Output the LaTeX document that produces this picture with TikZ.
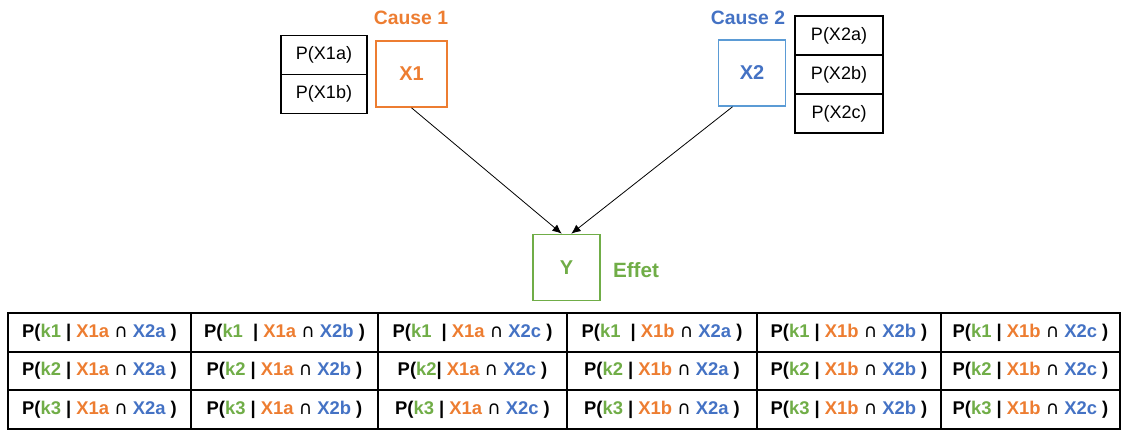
\documentclass[tikz,border=0pt]{standalone}
\usepackage{fontspec}
\setmainfont{Liberation Sans}
\newfontfamily\symfont{DejaVu Sans}
\usetikzlibrary{arrows.meta}
\definecolor{cause1}{HTML}{ED7D31}
\definecolor{cause2}{HTML}{4472C4}
\definecolor{cause2box}{HTML}{5B9BD5}
\definecolor{effet}{HTML}{70AD47}
\newcommand{\pcell}[3]{P(\textcolor{effet}{#1}| \textcolor{cause1}{#2} {\symfont\mdseries ∩} \textcolor{cause2}{#3} )}
\begin{document}
\begin{tikzpicture}[x=0.75pt,y=-0.75pt,
  prob/.style={draw,line width=1pt,minimum height=29.25pt,inner sep=0pt,font=\fontsize{13.5}{16}\selectfont},
  var/.style={draw,line width=1.2pt,minimum width=50pt,minimum height=49.5pt,inner sep=0pt,font=\fontsize{15}{17}\selectfont\bfseries},
  lab/.style={font=\fontsize{14.5}{17}\selectfont\bfseries,inner sep=0pt},
  cell/.style={draw,line width=1.2pt,minimum height=28.9pt,inner sep=0pt,font=\fontsize{13.8}{16}\selectfont\bfseries},
  edge/.style={-{Latex[length=7pt,width=6pt]},line width=0.6pt}]
  \useasboundingbox (0,0) rectangle (1122,429);
  \node[prob,minimum width=64.5pt] (p1a) at (324,55){P(X1a)};
  \node[prob,minimum width=64.5pt] (p1b) at (324,94){P(X1b)};
  \node[var,draw=cause1,text=cause1,minimum width=53pt] (x1) at (411.5,74){X1};
  \node[lab,text=cause1] (c1) at (411,18){Cause 1};
  \node[var,draw=cause2box,text=cause2] (x2) at (752,73){X2};
  \node[lab,text=cause2] (c2) at (748,18){Cause 2};
  \node[prob,minimum width=66pt] (p2a) at (839,35.5){P(X2a)};
  \node[prob,minimum width=66pt] (p2b) at (839,74.5){P(X2b)};
  \node[prob,minimum width=66pt] (p2c) at (839,113.5){P(X2c)};
  \node[var,draw=effet,text=effet] (y) at (566.5,267.5){Y};
  \node[lab,text=effet,font=\fontsize{15.5}{17}\selectfont\bfseries] (ef) at (636,270){Effet};
  \draw[edge] (x1.south) -- (y.98);
  \draw[edge] (x2.240) -- (y.82);
  \node[cell,minimum width=137.25pt] (k1c1) at (99.5,332.5){\pcell{k1 }{X1a}{X2a}};
  \node[cell,minimum width=140.25pt] (k1c2) at (284.5,332.5){\pcell{k1\ \ }{X1a}{X2b}};
  \node[cell,minimum width=141.75pt] (k1c3) at (472.5,332.5){\pcell{k1\ \ }{X1a}{X2c}};
  \node[cell,minimum width=142.5pt] (k1c4) at (662,332.5){\pcell{k1\ \ }{X1b}{X2a}};
  \node[cell,minimum width=138pt] (k1c5) at (849,332.5){\pcell{k1 }{X1b}{X2b}};
  \node[cell,minimum width=134.25pt] (k1c6) at (1030.5,332.5){\pcell{k1 }{X1b}{X2c}};
  \node[cell,minimum width=137.25pt] (k2c1) at (99.5,371){\pcell{k2 }{X1a}{X2a}};
  \node[cell,minimum width=140.25pt] (k2c2) at (284.5,371){\pcell{k2 }{X1a}{X2b}};
  \node[cell,minimum width=141.75pt] (k2c3) at (472.5,371){\pcell{k2}{X1a}{X2c}};
  \node[cell,minimum width=142.5pt] (k2c4) at (662,371){\pcell{k2 }{X1b}{X2a}};
  \node[cell,minimum width=138pt] (k2c5) at (849,371){\pcell{k2 }{X1b}{X2b}};
  \node[cell,minimum width=134.25pt] (k2c6) at (1030.5,371){\pcell{k2 }{X1b}{X2c}};
  \node[cell,minimum width=137.25pt] (k3c1) at (99.5,409.5){\pcell{k3 }{X1a}{X2a}};
  \node[cell,minimum width=140.25pt] (k3c2) at (284.5,409.5){\pcell{k3 }{X1a}{X2b}};
  \node[cell,minimum width=141.75pt] (k3c3) at (472.5,409.5){\pcell{k3 }{X1a}{X2c}};
  \node[cell,minimum width=142.5pt] (k3c4) at (662,409.5){\pcell{k3 }{X1b}{X2a}};
  \node[cell,minimum width=138pt] (k3c5) at (849,409.5){\pcell{k3 }{X1b}{X2b}};
  \node[cell,minimum width=134.25pt] (k3c6) at (1030.5,409.5){\pcell{k3 }{X1b}{X2c}};
\end{tikzpicture}
\end{document}
